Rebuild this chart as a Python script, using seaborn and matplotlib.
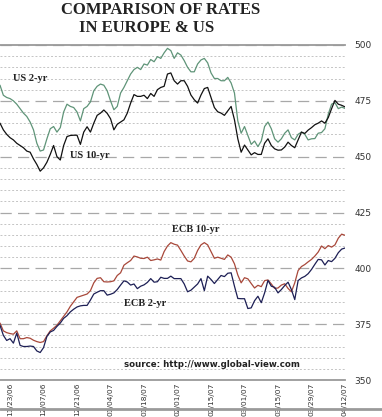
import pandas as pd
import matplotlib
matplotlib.use('Agg')
import matplotlib.pyplot as plt
from matplotlib.ticker import MultipleLocator
from matplotlib.lines import Line2D
import seaborn as sns

# --- データ（チャートから読み取った値, bp） ---
dates = pd.bdate_range('2006-11-20', '2007-04-12')

us_2yr = [482, 477.5, 476.5, 476, 475, 473.5, 471.5, 469.5, 468, 465.5,
          462, 456, 452.5, 453, 458, 462.5, 463.5, 461, 463, 470,
          473.5, 472.5, 472, 470, 466, 471.5, 472.5, 474.5, 479.5, 481.5,
          482.5, 482, 479.5, 475, 471, 472.5, 478.5, 481, 484, 487,
          489, 490, 489, 491.5, 491, 493.5, 492.5, 494.8, 494, 496.5,
          498.5, 497.5, 494, 496.5, 495.5, 493, 490, 488, 488, 491.5,
          493.3, 494, 492, 487.5, 485, 485, 484, 484, 485.5, 483,
          478.5, 466, 460.5, 463.5, 459.5, 455.5, 457, 454.5, 457, 463.5,
          465.5, 462.5, 458, 456.5, 458, 460.5, 462, 458.5, 457.5, 460,
          461, 460, 457.5, 458, 458.1, 460.5, 460.8, 462.5, 469, 473.5,
          474.2, 471.5, 472.2, 471.6]

us_10yr = [465, 462, 460, 458.5, 457.5, 456, 455, 454, 452.5, 452,
           449, 446.5, 443.5, 445, 447.5, 451, 455, 450, 448.5, 455,
           459, 459.5, 459.6, 459.6, 455.5, 461, 463.4, 461, 465, 468.5,
           469.5, 470.9, 469.4, 467, 462, 464.5, 465.5, 466.5, 469.5, 474,
           477.8, 477, 477, 477.5, 476, 478.3, 477, 480, 481, 481.5,
           487, 487.5, 484, 482.5, 484, 484, 481.5, 477.6, 475.5, 474,
           477.6, 480.5, 481, 476.5, 472, 470.1, 469.5, 468.5, 470.5, 472.5,
           466.5, 458, 452, 455.2, 453, 450.8, 451.8, 451, 451, 456,
           458, 455, 453.5, 452.9, 453, 454.3, 456.5, 455, 454, 457.5,
           461, 460.4, 461.9, 463, 464.3, 465, 466, 465, 467.5, 471.5,
           475.2, 473.5, 473, 472.3]

ecb_10yr = [375.5, 372, 371.2, 370.8, 370.5, 372, 368.5, 368.5, 369, 368.7,
            367.8, 367.2, 366.8, 367.2, 369.8, 372, 373.2, 374.5, 376.5, 378.5,
            380.5, 383, 385, 387, 387.5, 388, 388.5, 390, 393.5, 395.5,
            395.8, 394, 393.9, 394, 394.4, 396.8, 398, 401.4, 402.5, 403.5,
            405.5, 405.1, 404.5, 404.4, 405, 403.5, 403.8, 404.2, 403.7, 407.5,
            410, 411.5, 410.8, 410.4, 408, 405.5, 403.3, 402.9, 404.5, 408,
            410.5, 411.5, 410.5, 407.5, 404.5, 405, 404.5, 404, 406, 405,
            402, 397, 393.5, 395.8, 395.3, 393.2, 391.2, 392.4, 391.8, 394.5,
            394.8, 393, 391, 391.2, 392.5, 393.1, 391, 389.5, 393.5, 399,
            400.8, 401.7, 402.9, 404, 405.5, 407.3, 410, 408.8, 410.2, 409.5,
            410.5, 413.5, 415.3, 414.8]

ecb_2yr = [374.5, 370, 367.7, 368.5, 366.5, 371, 365.5, 365, 365, 365.2,
           365, 363, 362.3, 364.5, 369.5, 371.5, 372.2, 374, 375.5, 377.6,
           378.8, 380.5, 381.7, 382.7, 383.2, 383.4, 383.4, 385.8, 388.5, 389.3,
           390, 390, 388, 388.4, 389, 390.5, 392.5, 394.4, 393.9, 392.5,
           393, 390.9, 392, 392.6, 393.7, 395.4, 393.8, 394, 396, 395.5,
           395.5, 396.5, 395.4, 395.4, 395.4, 393, 389.5, 390.2, 391.6, 393,
           395.4, 390, 396.5, 395, 393.2, 395, 396.8, 396.3, 397.8, 398,
           392, 386.5, 386.4, 386.4, 382, 382.3, 385.5, 387.5, 384.6, 389,
           394.6, 392, 391.5, 389, 390.5, 392.3, 393.8, 390.5, 386, 394.5,
           395.7, 396.4, 397.6, 399.5, 401.8, 404, 403.8, 401.5, 403.5, 403,
           404.5, 407, 408.6, 409.1]

series_names = ['US 2-yr', 'US 10-yr', 'ECB 10-yr', 'ECB 2-yr']
y_ticks = [350, 375, 400, 425, 450, 475, 500]
x_tick_idx = list(range(3, len(dates), 10))

# --- データフレーム作成 ---
n = len(dates)
df = pd.DataFrame({
    'idx': list(range(n)) * 4,
    'rate': us_2yr + us_10yr + ecb_10yr + ecb_2yr,
    'series': sum([[s] * n for s in series_names], []),
})

palette = {
    'US 2-yr': '#5f9478',
    'US 10-yr': '#111111',
    'ECB 10-yr': '#a8483a',
    'ECB 2-yr': '#1d1f55',
}

sns.set_style('white')
plt.rcParams['font.family'] = ['DejaVu Sans']

fig = plt.figure(figsize=(3.82, 4.17), dpi=100)
ax = fig.add_axes([0.0, (417 - 380) / 417, 345 / 382, (380 - 45) / 417])

sns.lineplot(data=df, x='idx', y='rate', hue='series', palette=palette,
             linewidth=0.9, legend=False, ax=ax)

ax.set_xlim(0, n - 1)
ax.set_ylim(350, 500)

# グリッド（主: 破線, 副: 点線）
ax.yaxis.set_major_locator(MultipleLocator(25))
ax.yaxis.set_minor_locator(MultipleLocator(5))
ax.grid(which='minor', axis='y', color='#c4c4c4', linestyle=(0, (2, 2)), linewidth=0.7)
ax.grid(which='major', axis='y', color='#a8a8a8', linestyle=(0, (9, 5)), linewidth=0.9)
ax.set_axisbelow(True)

for side in ['left', 'right']:
    ax.spines[side].set_visible(False)
for side in ['top', 'bottom']:
    ax.spines[side].set_color('#9a9a9a')
    ax.spines[side].set_linewidth(1.3)

ax.yaxis.tick_right()
ax.set_yticks(y_ticks)
ax.tick_params(axis='y', which='both', length=0, pad=7, labelsize=6.5, labelcolor='#333333')
ax.set_xticks(x_tick_idx)
ax.set_xticklabels([dates[i].strftime('%m/%d/%y') for i in x_tick_idx],
                   rotation=90, fontsize=5.4, color='#333333',
                   family=['Liberation Sans Narrow', 'DejaVu Sans'])
ax.tick_params(axis='x', length=0, pad=2)
ax.set_xlabel('')
ax.set_ylabel('')

# 系列ラベル
lab = dict(fontsize=7.5, fontweight='bold', family=['Liberation Serif', 'DejaVu Serif'],
           color='#222222', va='center', ha='left')
ax.text(3.9, 485.2, 'US 2-yr', **lab)
ax.text(20.9, 450.7, 'US 10-yr', **lab)
ax.text(51.3, 417.5, 'ECB 10-yr', **lab)
ax.text(37.0, 384.3, 'ECB 2-yr', **lab)
ax.text(37.0, 357.0, 'source: http://www.global-view.com', fontsize=6.2,
        fontweight='bold', color='#222222', va='center', ha='left')

# タイトル
title_kw = dict(fontsize=12, fontweight='bold', family=['Liberation Serif', 'DejaVu Serif'],
                color='#222222', ha='center', va='center')
fig.text(161 / 382, 1 - 10.5 / 417, 'COMPARISON OF RATES', **title_kw)
fig.text(147 / 382, 1 - 27.5 / 417, 'IN EUROPE & US', **title_kw)

# 下端の枠線
fig.add_artist(Line2D([0, 1], [1 - 409 / 417] * 2, color='#9a9a9a', linewidth=2.0))

plt.savefig('out.png', dpi=100)
plt.close()
